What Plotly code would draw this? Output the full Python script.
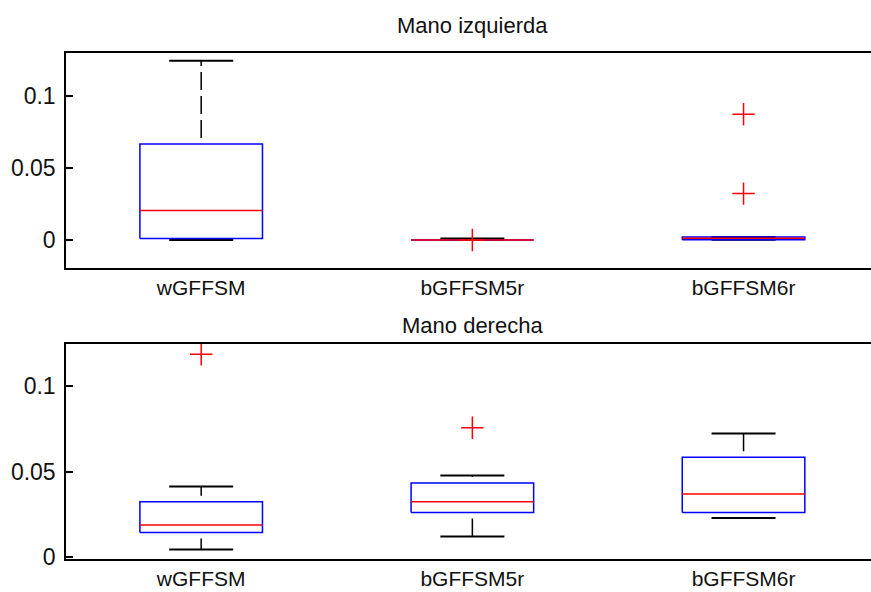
import plotly.graph_objects as go
from plotly.subplots import make_subplots

categories = ["wGFFSM", "bGFFSM5r", "bGFFSM6r"]
positions = [1, 2, 3]

# Mano izquierda (top panel)
left_lower = [0.0, 0.0, 0.0002]
left_q1 = [0.001, 0.0, 0.0002]
left_median = [0.0205, 0.0, 0.0011]
left_q3 = [0.0667, 0.0, 0.0021]
left_upper = [0.1246, 0.001, 0.0021]
left_outliers = [[], [0.0], [0.0873, 0.0322]]

# Mano derecha (bottom panel)
right_lower = [0.0045, 0.0122, 0.0229]
right_q1 = [0.0145, 0.0262, 0.0262]
right_median = [0.0188, 0.0324, 0.0369]
right_q3 = [0.0324, 0.0433, 0.0584]
right_upper = [0.0413, 0.0477, 0.0723]
right_outliers = [[0.1185], [0.0756], []]

y_ticks = [0, 0.05, 0.1]
y_ticktext = ["0", "0.05", "0.1"]

BOX_HW = 0.226
CAP_HW = 0.118
FONT = "Liberation Sans, Arial, sans-serif"

fig = make_subplots(rows=2, cols=1)


def add_panel(row, lower, q1, med, q3, upper, outl):
    wx, wy, cx, cy, bx, by, mx, my, ox, oy = [], [], [], [], [], [], [], [], [], []
    for p, lo, a, m, b, hi, out in zip(positions, lower, q1, med, q3, upper, outl):
        wx += [p, p, None, p, p, None]
        wy += [b, hi, None, a, lo, None]
        cx += [p - CAP_HW, p + CAP_HW, None, p - CAP_HW, p + CAP_HW, None]
        cy += [hi, hi, None, lo, lo, None]
        bx += [p - BOX_HW, p + BOX_HW, p + BOX_HW, p - BOX_HW, p - BOX_HW, None]
        by += [a, a, b, b, a, None]
        mx += [p - BOX_HW, p + BOX_HW, None]
        my += [m, m, None]
        for v in out:
            ox.append(p)
            oy.append(v)
    fig.add_trace(go.Scatter(x=wx, y=wy, mode="lines", hoverinfo="skip",
                             line=dict(color="black", width=1.5, dash="0px,6px,18px,0px")),
                  row=row, col=1)
    fig.add_trace(go.Scatter(x=cx, y=cy, mode="lines", hoverinfo="skip",
                             line=dict(color="black", width=2)), row=row, col=1)
    fig.add_trace(go.Scatter(x=bx, y=by, mode="lines", hoverinfo="skip",
                             line=dict(color="#0000ff", width=1.5)), row=row, col=1)
    fig.add_trace(go.Scatter(x=mx, y=my, mode="lines", hoverinfo="skip",
                             line=dict(color="#ff0000", width=1.5)), row=row, col=1)
    fig.add_trace(go.Scatter(x=ox, y=oy, mode="markers", hoverinfo="skip",
                             marker=dict(symbol="cross-thin", size=16,
                                         line=dict(color="#ff0000", width=1.5))),
                  row=row, col=1)


add_panel(1, left_lower, left_q1, left_median, left_q3, left_upper, left_outliers)
add_panel(2, right_lower, right_q1, right_median, right_q3, right_upper, right_outliers)

H_TOP, H_BOT = 53, 33
plot_h = 592 - H_TOP - H_BOT


def pf(ypx):
    return (592 - H_BOT - ypx) / plot_h


xaxis_common = dict(range=[0.5015, 3.47], tickvals=positions, ticktext=categories,
                    ticks="", showline=True, linecolor="black", linewidth=1.5,
                    mirror=True, showgrid=False, zeroline=False,
                    tickfont=dict(family=FONT, size=21, color="#111"))
yaxis_common = dict(tickvals=y_ticks, ticktext=y_ticktext, ticks="inside", ticklen=7,
                    tickwidth=1.5, tickcolor="black", showline=True, linecolor="black",
                    linewidth=1.5, showgrid=False, zeroline=False, mirror=False,
                    ticklabelstandoff=4,
                    tickfont=dict(family=FONT, size=23, color="#111"))

fig.update_layout(
    width=871, height=592, autosize=False,
    margin=dict(l=66, r=0, t=H_TOP, b=H_BOT, pad=0),
    plot_bgcolor="white", paper_bgcolor="white", showlegend=False,
    xaxis=dict(domain=[0, 1], anchor="y", **xaxis_common),
    xaxis2=dict(domain=[0, 1], anchor="y2", **xaxis_common),
    yaxis=dict(domain=[pf(268), 1.0], range=[-0.0195, 0.1299], anchor="x", **yaxis_common),
    yaxis2=dict(domain=[0.0, pf(344)], range=[-0.001, 0.1245], anchor="x2", **yaxis_common),
    annotations=[
        dict(text="Mano izquierda", x=2, xref="x", y=pf(25), yref="paper",
             xanchor="center", yanchor="middle", showarrow=False,
             font=dict(family=FONT, size=22, color="#111")),
        dict(text="Mano derecha", x=2, xref="x2", y=pf(325), yref="paper",
             xanchor="center", yanchor="middle", showarrow=False,
             font=dict(family=FONT, size=22, color="#111")),
    ],
)

fig.write_html("out.html", config={"displayModeBar": False},
               default_width="871px", default_height="592px")
